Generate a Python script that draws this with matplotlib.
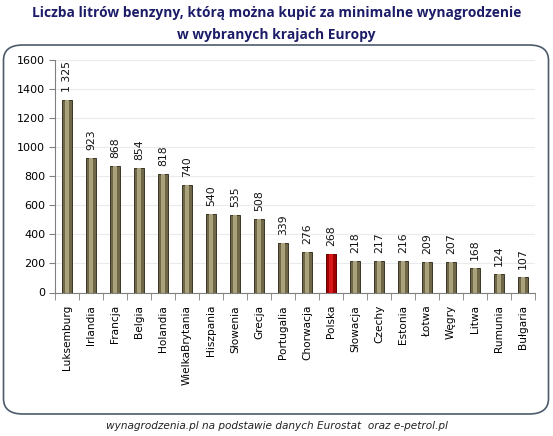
import matplotlib.pyplot as plt
from matplotlib.patches import FancyBboxPatch

kraje = ['Luksemburg', 'Irlandia', 'Francja', 'Belgia', 'Holandia', 'WielkaBrytania',
         'Hiszpania', 'Słowenia', 'Grecja', 'Portugalia', 'Chorwacja', 'Polska',
         'Słowacja', 'Czechy', 'Estonia', 'Łotwa', 'Węgry', 'Litwa', 'Rumunia', 'Bułgaria']
litry = [1325, 923, 868, 854, 818, 740, 540, 535, 508, 339, 276, 268,
         218, 217, 216, 209, 207, 168, 124, 107]
etykiety = ['1 325'] + [str(v) for v in litry[1:]]
yticks = [0, 200, 400, 600, 800, 1000, 1200, 1400, 1600]

W, H = 553, 436
fig = plt.figure(figsize=(W / 100, H / 100), dpi=100)

# ramka wokol wykresu
box = FancyBboxPatch((3.5 / W, 1 - 414 / H), 545 / W, 369 / H,
                     boxstyle='round,pad=0,rounding_size=0.035',
                     transform=fig.transFigure, fill=False,
                     edgecolor='#4d5b6b', linewidth=1.2)
fig.patches.append(box)

ax = fig.add_axes([55 / W, 1 - 292.5 / H, (535 - 55) / W, (292.5 - 60) / H])
x = list(range(len(kraje)))
kolory = ['#a00000' if k == 'Polska' else '#6e6748' for k in kraje]
jasne = ['#d81818' if k == 'Polska' else '#aaa27c' for k in kraje]
krawedz = ['#600000' if k == 'Polska' else '#3a3524' for k in kraje]

ax.bar(x, litry, width=0.4, color=kolory, edgecolor=krawedz, linewidth=0.7, zorder=2)
ax.bar(x, litry, width=0.2, color=jasne, linewidth=0, zorder=3)

for xi, v, t in zip(x, litry, etykiety):
    ax.text(xi, v + 55, t, rotation=90, ha='center', va='bottom',
            fontsize=7.8, color='#111111', zorder=4)

ax.set_xlim(-0.5, len(kraje) - 0.5)
ax.set_ylim(0, 1600)
ax.set_yticks(yticks)
ax.set_yticklabels([str(v) for v in yticks], fontsize=8)
ax.set_xticks(x)
ax.set_xticklabels(kraje, rotation=90, fontsize=7.6)
ax.set_xticks([i - 0.5 for i in range(len(kraje) + 1)], minor=True)
ax.tick_params(axis='x', which='major', length=0, pad=9)
ax.tick_params(axis='x', which='minor', length=5, color='#808080')
ax.tick_params(axis='y', length=4, color='#808080', pad=3)
ax.grid(axis='y', color='#ebebeb', linewidth=0.8, zorder=0)
for s in ['top', 'right']:
    ax.spines[s].set_visible(False)
ax.spines['left'].set_color('#808080')
ax.spines['bottom'].set_color('#808080')

fig.text(0.5, 1 - 13 / H, 'Liczba litrów benzyny, którą można kupić za minimalne wynagrodzenie',
         ha='center', va='center', fontsize=9.9, fontweight='bold', color='#1c1c68',
         family='Open Sans')
fig.text(0.5, 1 - 35 / H, 'w wybranych krajach Europy',
         ha='center', va='center', fontsize=9.9, fontweight='bold', color='#1c1c68',
         family='Open Sans')
fig.text(0.5, 1 - 426 / H, 'wynagrodzenia.pl na podstawie danych Eurostat  oraz e-petrol.pl',
         ha='center', va='center', fontsize=7.6, style='italic', color='#222222')

fig.savefig('out.png', dpi=100)
